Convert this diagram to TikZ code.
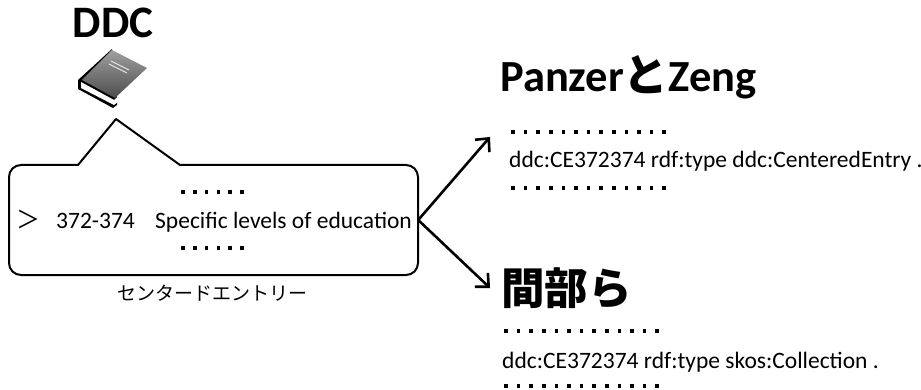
\documentclass[tikz,border=0pt]{standalone}
\usepackage{fontspec}
\setmainfont{Carlito}
\newfontfamily\jp{Noto Sans CJK JP}
\usetikzlibrary{arrows.meta}
\begin{document}
\begin{tikzpicture}[x=1pt,y=-1pt,
  txt/.style={inner sep=0pt, anchor=base west, font=\fontsize{23.5}{27}\selectfont},
  head/.style={inner sep=0pt, anchor=base west, font=\fontsize{44.5}{50}\selectfont\bfseries},
  arr/.style={line width=2.6pt, -{Straight Barb[length=10pt,width=19pt]}},
  outline/.style={line width=2pt, line join=round},
  dotsq/.style={fill=black}
]
\useasboundingbox (0,0) rectangle (921,390);

% title DDC
\node[inner sep=0pt, anchor=base, font=\fontsize{45}{50}\selectfont\bfseries] (ddc) at (113,38) {DDC};

% book icon
\fill[black] (112,49) -- (78,80) -- (78,89) -- (113,108) -- (117,105) -- (117,97) -- cycle;
\fill[white] (81,82) -- (114,100) -- (146,73) -- (146,80) -- (114,105) -- (81,88) -- cycle;
\shade[top color=gray!75, bottom color=black!70] (112,50) -- (147,68) -- (115,98) -- (82,80) -- cycle;
\draw[gray!20, line width=0.9pt] (111,61) -- (129,70);
\draw[gray!20, line width=0.9pt] (109,64) -- (127,73);

% callout
\draw[outline, fill=white] (116,119) -- (180,165) [rounded corners=12pt] -- (418,165) -- (418,275) -- (9,275) -- (9,165) [sharp corners] -- (78,165) -- cycle;
\node[inner sep=0pt, minimum width=409pt, minimum height=110pt] (entry) at (213.5,220) {};

\foreach \i in {0,...,5} \fill[dotsq] ({181.2+\i*11.8},190.2) rectangle +(3.6,3.6);
\foreach \i in {0,...,5} \fill[dotsq] ({181.2+\i*11.8},246.2) rectangle +(3.6,3.6);

\node[inner sep=0pt, anchor=base west, font=\jp\fontsize{24}{27}\selectfont] (gt) at (16,229) {＞};
\node[txt] (num) at (56,229) {372-374};
\node[txt] (desc) at (155,229) {Specific levels of education};

\node[inner sep=0pt, anchor=base west, font=\jp\fontsize{19}{22}\selectfont] (ce) at (117,300) {センタードエントリー};

% right: Panzer & Zeng
\node[head] (pz) at (500,92) {Panzer{\jp と}Zeng};
\foreach \i in {0,...,12} \fill[dotsq] ({511.2+\i*12.6},130.2) rectangle +(3.6,3.6);
\node[txt] (t1) at (509,168) {ddc:CE372374 rdf:type ddc:CenteredEntry .};
\foreach \i in {0,...,12} \fill[dotsq] ({511.2+\i*12.6},186.2) rectangle +(3.6,3.6);

% right: Mabe et al.
\node[inner sep=0pt, anchor=base west, font=\jp\bfseries\fontsize{43.5}{50}\selectfont] (mb) at (501,304) {間部ら};
\foreach \i in {0,...,12} \fill[dotsq] ({504.2+\i*12.6},329.2) rectangle +(3.6,3.6);
\node[txt] (t2) at (502,368) {ddc:CE372374 rdf:type skos:Collection .};
\foreach \i in {0,...,12} \fill[dotsq] ({504.2+\i*12.6},384.2) rectangle +(3.6,3.6);

% arrows
\coordinate (tipA) at (490,137);
\coordinate (tipB) at (490,288);
\draw[arr] (entry.east) -- (tipA);
\draw[arr] (entry.east) -- (tipB);
\end{tikzpicture}
\end{document}
